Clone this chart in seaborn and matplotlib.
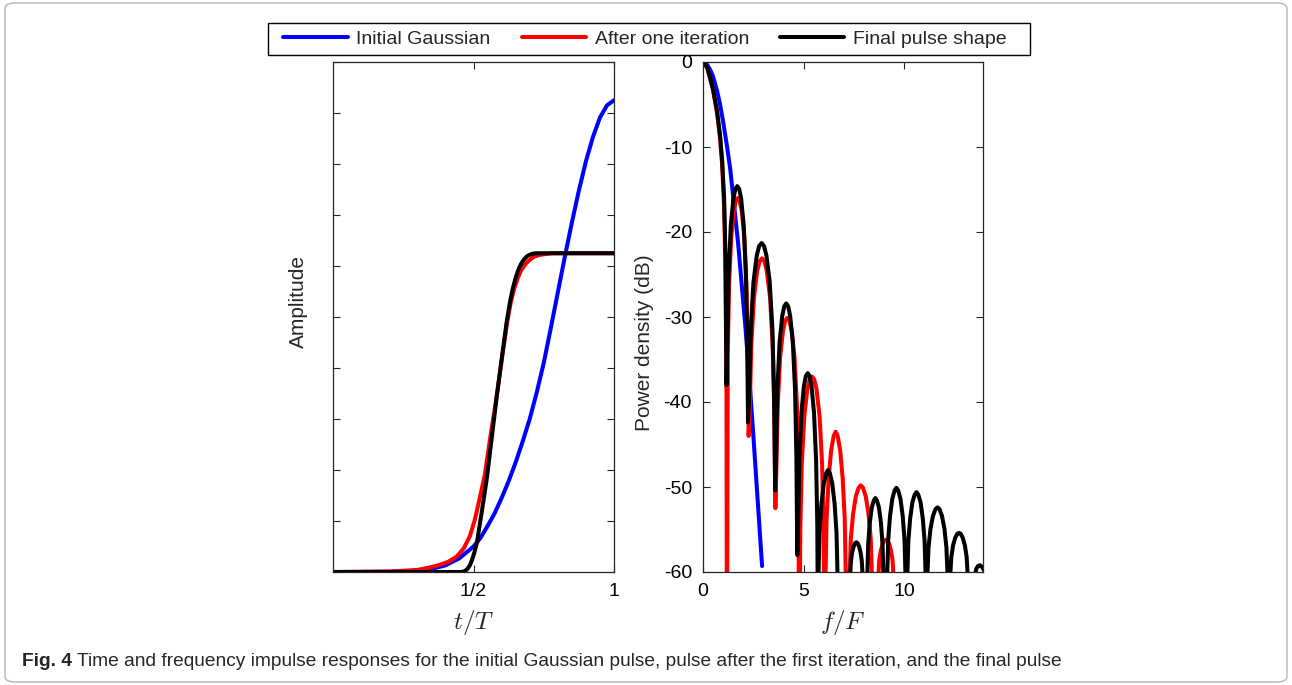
import matplotlib
matplotlib.use("Agg")
import matplotlib.pyplot as plt
import seaborn as sns
from matplotlib.patches import FancyBboxPatch, Rectangle

# ---- time domain (left panel) ----
t_gauss = [0, 0.1, 0.2, 0.3, 0.35, 0.4, 0.45, 0.5, 0.525, 0.55, 0.575, 0.6, 0.625, 0.65, 0.675,
           0.7, 0.725, 0.75, 0.775, 0.8, 0.825, 0.85, 0.875, 0.9, 0.925, 0.95, 0.975, 1.0]
a_gauss = [0, 0.0001, 0.0005, 0.0025, 0.006, 0.013, 0.027, 0.05, 0.067, 0.09, 0.115, 0.145, 0.178, 0.215, 0.256,
           0.30, 0.352, 0.41, 0.478, 0.548, 0.618, 0.685, 0.748, 0.805, 0.853, 0.891, 0.915, 0.925]

t_iter = [0, 0.2, 0.3, 0.345, 0.38, 0.41, 0.44, 0.465, 0.487, 0.505, 0.523, 0.54, 0.56, 0.584, 0.602,
          0.619, 0.632, 0.645, 0.658, 0.67, 0.685, 0.70, 0.715, 0.73, 0.75, 0.78, 1.0]
a_iter = [0, 0.001, 0.004, 0.009, 0.014, 0.02, 0.03, 0.046, 0.07, 0.103, 0.147, 0.19, 0.265, 0.35, 0.422,
          0.487, 0.527, 0.556, 0.577, 0.592, 0.604, 0.612, 0.618, 0.621, 0.623, 0.625, 0.625]

t_final = [0, 0.455, 0.465, 0.472, 0.48, 0.488, 0.495, 0.503, 0.512, 0.53, 0.548, 0.566, 0.584, 0.602,
           0.619, 0.63, 0.64, 0.65, 0.66, 0.67, 0.68, 0.69, 0.70, 0.71, 0.72, 0.735, 0.76, 1.0]
a_final = [0, 0, 0.001, 0.003, 0.007, 0.014, 0.024, 0.038, 0.057, 0.12, 0.186, 0.268, 0.35, 0.425,
           0.494, 0.53, 0.556, 0.577, 0.593, 0.605, 0.613, 0.619, 0.622, 0.624, 0.625, 0.625, 0.625, 0.625]

# ---- frequency domain (right panel), dB ----
f_gauss = [0, 0.2, 0.35, 0.5, 0.7, 0.85, 1.0, 1.2, 1.35, 1.5, 1.75, 2.1, 2.3, 2.5, 2.94]
p_gauss = [0, -0.3, -0.9, -1.7, -3.4, -5.0, -7.0, -10.0, -12.5, -15.8, -21.4, -30.9, -37.0, -43.8, -59.3]

f_iter = [0, 0.2, 0.35, 0.5, 0.7, 0.85, 0.95, 1.05, 1.12, 1.17, 1.19,
          1.233, 1.298, 1.406, 1.536, 1.633, 1.73, 1.827, 1.924, 2.054, 2.162, 2.227, 2.27,
          2.323, 2.403, 2.536, 2.696, 2.815, 2.935, 3.055, 3.174, 3.334, 3.467, 3.547, 3.6,
          3.648, 3.719, 3.838, 3.981, 4.088, 4.195, 4.302, 4.409, 4.552, 4.671, 4.742, 4.79,
          4.84, 4.916, 5.042, 5.193, 5.307, 5.42, 5.533, 5.647, 5.798, 5.924, 6.0, 6.05,
          6.07, 6.1, 6.15, 6.25, 6.375, 6.5, 6.6, 6.7, 6.825, 6.95, 7.05, 7.1, 7.14,
          7.26, 7.3, 7.355, 7.465, 7.603, 7.74, 7.85, 7.96, 8.098, 8.235, 8.345, 8.4, 8.44,
          8.7, 8.735, 8.77, 8.845, 8.936, 9.027, 9.1, 9.173, 9.264, 9.355, 9.43, 9.465, 9.5]
p_iter = [0, -0.6, -1.9, -3.3, -6.0, -9.0, -12.0, -17.0, -25.0, -40.0, -75,
          -34.0, -26.2, -20.6, -17.5, -16.35, -16.0, -16.35, -17.5, -20.6, -26.2, -34.0, -44.0,
          -41.1, -33.3, -27.7, -24.6, -23.45, -23.1, -23.45, -24.6, -27.7, -33.3, -41.1, -52.5,
          -48.1, -40.3, -34.7, -31.6, -30.45, -30.1, -30.45, -31.6, -34.7, -40.3, -48.1, -75,
          -55.0, -47.2, -41.6, -38.5, -37.35, -37.0, -37.35, -38.5, -41.6, -47.2, -55.0, -75,
          -75, -60.0, -53.7, -49.0, -45.7, -44.0, -43.5, -44.0, -45.7, -49.0, -53.7, -60.0, -75,
          -75, -60.0, -56.1, -53.2, -51.1, -50.1, -49.8, -50.1, -51.1, -53.2, -56.1, -60.0, -75,
          -75, -60.0, -58.6, -57.5, -56.7, -56.3, -56.2, -56.3, -56.7, -57.5, -58.6, -60.0, -75]

f_final = [0, 0.2, 0.35, 0.5, 0.7, 0.85, 0.95, 1.05, 1.12, 1.17,
           1.213, 1.277, 1.384, 1.512, 1.609, 1.705, 1.801, 1.898, 2.026, 2.133, 2.197, 2.24,
           2.294, 2.375, 2.51, 2.672, 2.794, 2.915, 3.037, 3.158, 3.32, 3.455, 3.536, 3.59,
           3.634, 3.70, 3.81, 3.942, 4.041, 4.14, 4.239, 4.338, 4.47, 4.58, 4.646, 4.69,
           4.732, 4.794, 4.898, 5.023, 5.116, 5.21, 5.304, 5.397, 5.522, 5.626, 5.688, 5.73,
           5.735, 5.75, 5.797, 5.891, 6.009, 6.126, 6.22, 6.314, 6.431, 6.549, 6.643, 6.69, 6.72,
           7.29, 7.33, 7.36, 7.42, 7.495, 7.57, 7.63, 7.69, 7.765, 7.84, 7.9, 7.93, 7.97,
           8.13, 8.18, 8.219, 8.298, 8.397, 8.496, 8.575, 8.654, 8.753, 8.852, 8.931, 8.97, 9.02,
           9.12, 9.17, 9.215, 9.305, 9.418, 9.53, 9.62, 9.71, 9.823, 9.935, 10.025, 10.07, 10.12,
           10.13, 10.17, 10.215, 10.305, 10.418, 10.53, 10.62, 10.71, 10.823, 10.935, 11.025, 11.07, 11.11,
           11.13, 11.17, 11.22, 11.319, 11.442, 11.566, 11.665, 11.764, 11.888, 12.011, 12.11, 12.16, 12.2,
           12.27, 12.31, 12.353, 12.438, 12.544, 12.65, 12.735, 12.82, 12.926, 13.032, 13.117, 13.16, 13.2,
           13.52, 13.56, 13.6, 13.68, 13.78, 13.88, 13.98]
p_final = [0, -0.6, -1.8, -3.2, -5.8, -8.7, -11.5, -16.0, -23.0, -38.0,
           -32.6, -24.8, -19.2, -16.1, -14.95, -14.6, -14.95, -16.1, -19.2, -24.8, -32.6, -42.4,
           -39.3, -31.5, -25.9, -22.8, -21.65, -21.3, -21.65, -22.8, -25.9, -31.5, -39.3, -50.4,
           -46.4, -38.6, -33.0, -29.9, -28.75, -28.4, -28.75, -29.9, -33.0, -38.6, -46.4, -58.0,
           -54.6, -46.8, -41.2, -38.1, -36.95, -36.6, -36.95, -38.1, -41.2, -46.8, -54.6, -75,
           -75, -60.0, -55.4, -52.0, -49.6, -48.4, -48.0, -48.4, -49.6, -52.0, -55.4, -60.0, -75,
           -75, -60.0, -58.7, -57.7, -57.0, -56.6, -56.5, -56.6, -57.0, -57.7, -58.7, -60.0, -75,
           -75, -60.0, -56.7, -54.2, -52.4, -51.6, -51.3, -51.6, -52.4, -54.2, -56.7, -60.0, -75,
           -75, -60.0, -56.2, -53.4, -51.4, -50.4, -50.1, -50.4, -51.4, -53.4, -56.2, -60.0, -75,
           -75, -60.0, -56.4, -53.7, -51.8, -50.9, -50.6, -50.9, -51.8, -53.7, -56.4, -60.0, -75,
           -75, -60.0, -57.1, -54.9, -53.4, -52.6, -52.4, -52.6, -53.4, -54.9, -57.1, -60.0, -75,
           -75, -60.0, -58.25, -56.9, -56.0, -55.5, -55.4, -55.5, -56.0, -56.9, -58.25, -60.0, -75,
           -75, -60.0, -59.6, -59.3, -59.2, -59.4, -59.8]

labels = ["Initial Gaussian", "After one iteration", "Final pulse shape"]
colors = ["#0000ff", "#ff0000", "#000000"]

sns.set_style("ticks")
plt.rcParams["font.family"] = ["Liberation Sans", "DejaVu Sans"]
plt.rcParams["mathtext.fontset"] = "cm"
plt.rcParams["axes.unicode_minus"] = False
axis_col = "#262626"

fig = plt.figure(figsize=(12.92, 6.85), dpi=100)
ax1 = fig.add_axes([333 / 1292, 113 / 685, 281 / 1292, 510 / 685])
ax2 = fig.add_axes([703 / 1292, 113 / 685, 280 / 1292, 510 / 685])

lw = 2.9
for x, y, c, lab in [(t_gauss, a_gauss, colors[0], labels[0]),
                     (t_iter, a_iter, colors[1], labels[1]),
                     (t_final, a_final, colors[2], labels[2])]:
    sns.lineplot(x=x, y=y, ax=ax1, color=c, lw=lw, label=lab, sort=False, estimator=None)

for x, y, c in [(f_gauss, p_gauss, colors[0]),
                (f_iter, p_iter, colors[1]),
                (f_final, p_final, colors[2])]:
    sns.lineplot(x=x, y=y, ax=ax2, color=c, lw=lw, sort=False, estimator=None)

ax1.set_xlim(0, 1)
ax1.set_ylim(0, 1)
ax1.set_xticks([0.5, 1])
ax1.set_xticklabels(["1/2", "1"])
ax1.set_yticks([i / 10 for i in range(11)])
ax1.set_yticklabels([])
ax1.set_xlabel("$t/T$", fontsize=18)
ax1.set_ylabel("Amplitude", fontsize=15)
ax1.xaxis.set_label_coords(0.5, -0.07)
ax1.yaxis.set_label_coords(-0.088, 0.53)

ax2.set_xlim(0, 13.93)
ax2.set_ylim(-60, 0)
ax2.set_xticks([0, 5, 10])
ax2.set_yticks(list(range(-60, 1, 10)))
ax2.set_xlabel("$f/F$", fontsize=18)
ax2.set_ylabel("Power density (dB)", fontsize=15)
ax2.xaxis.set_label_coords(0.5, -0.07)
ax2.yaxis.set_label_coords(-0.176, 0.45)

for ax in (ax1, ax2):
    ax.tick_params(direction="in", length=5, width=0.8, colors=axis_col,
                   labelcolor="black", labelsize=14, top=True, right=True, pad=8)
    for s in ax.spines.values():
        s.set_visible(True)
        s.set_color(axis_col)
        s.set_linewidth(0.9)

handles, _ = ax1.get_legend_handles_labels()
if ax1.get_legend() is not None:
    ax1.get_legend().remove()
fig.legend(handles, labels, loc="center", bbox_to_anchor=(645 / 1292, 1 - 39 / 685),
           ncol=3, fontsize=14, frameon=False,
           handlelength=3.3, handletextpad=0.45, columnspacing=1.6,
           borderpad=0.3, borderaxespad=0)
fig.patches.append(Rectangle((268 / 1292, 1 - 55 / 685), 762 / 1292, 32 / 685,
                             transform=fig.transFigure, fill=False, edgecolor="black", lw=1.0))

# caption
cap_font = ["Liberation Sans Narrow", "Liberation Sans"]
cap1 = fig.text(22 / 1292, 1 - 661 / 685, "Fig. 4", fontsize=13.8, fontweight="bold",
                va="center", ha="left", family=cap_font)
fig.canvas.draw()
bb = cap1.get_window_extent()
fig.text((bb.x1 + 5) / 1292, 1 - 661 / 685,
         "Time and frequency impulse responses for the initial Gaussian pulse, "
         "pulse after the first iteration, and the final pulse",
         fontsize=13.8, va="center", ha="left", family=cap_font)

border = FancyBboxPatch((5 / 1292, 3 / 685), 1282 / 1292, 679 / 685,
                        boxstyle="round,pad=0,rounding_size=0.008",
                        transform=fig.transFigure, fill=False, edgecolor="#b5b5b5", lw=1.0)
fig.patches.append(border)

fig.savefig("out.png", dpi=100)
